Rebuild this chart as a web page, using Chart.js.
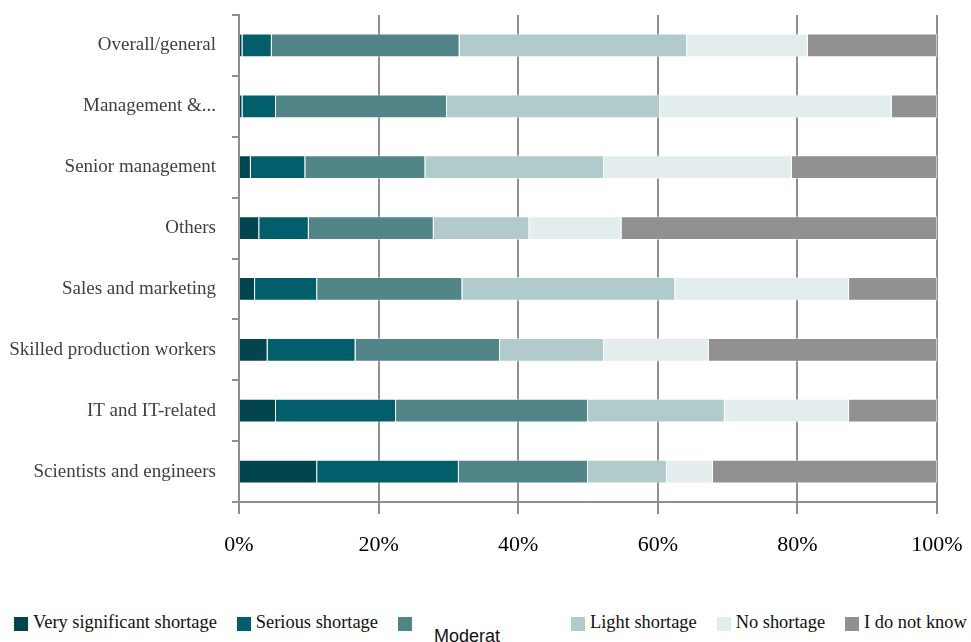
<!DOCTYPE html>
<html>
<head>
<meta charset="utf-8">
<script src="https://cdn.jsdelivr.net/npm/chart.js@4.4.1/dist/chart.umd.min.js"></script>
<style>
  body { margin: 0; background: #fff; }
  #wrap { position: relative; width: 971px; height: 642px; overflow: hidden; }
  #box { position: absolute; left: 0; top: 0; width: 971px; height: 600px; }
  #legend { position: absolute; left: 14px; top: 612px; display: flex; font-family: 'Liberation Serif', serif; font-size: 18.4px; color: #111; white-space: nowrap; }
  #legend .item { display: flex; align-items: flex-start; margin-right: 20px; }
  #legend .sw { width: 14px; height: 14px; margin-top: 5px; margin-right: 5px; }
  #legend .odd { width: 134px; position: relative; }
  #legend .odd span { position: absolute; left: 17px; top: 14px; font-family: 'Liberation Sans', sans-serif; font-size: 18px; }
</style>
</head>
<body>
<div id="wrap">
  <div id="box"><canvas id="barChart"></canvas></div>
  <div id="legend"></div>
</div>
<script>
const categories = ['Overall/general', 'Management &...', 'Senior management', 'Others',
  'Sales and marketing', 'Skilled production workers', 'IT and IT-related', 'Scientists and engineers'];
const seriesNames = ['Very significant shortage', 'Serious shortage', 'Moderat', 'Light shortage', 'No shortage', 'I do not know'];
const verySignificant = [0.5, 0.5, 1.7, 2.9, 2.3, 4.1, 5.3, 11.2];
const serious = [4.2, 4.8, 7.8, 7.1, 8.9, 12.6, 17.2, 20.3];
const moderate = [26.9, 24.5, 17.2, 17.9, 20.8, 20.7, 27.5, 18.5];
const light = [32.6, 30.4, 25.6, 13.7, 30.5, 14.9, 19.6, 11.3];
const noShortage = [17.3, 33.3, 26.9, 13.2, 24.9, 15.0, 17.8, 6.6];
const doNotKnow = [18.5, 6.5, 20.8, 45.2, 12.6, 32.7, 12.6, 32.1];
const colors = ['#02454f', '#025e6b', '#528588', '#b1cacc', '#e3eded', '#919191'];

const values = [verySignificant, serious, moderate, light, noShortage, doNotKnow];
const gridGray = '#8f8f8f';

// legend drawn as html so the odd "Moderat" label can sit where it does
const legendEl = document.getElementById('legend');
seriesNames.forEach((name, i) => {
    const item = document.createElement('div');
    item.className = 'item';
    const sw = document.createElement('div');
    sw.className = 'sw';
    sw.style.background = colors[i];
    item.appendChild(sw);
    const txt = document.createElement('div');
    if (i === 2) {
        txt.className = 'odd';
        const s = document.createElement('span');
        s.textContent = name;
        txt.appendChild(s);
    } else {
        txt.textContent = name;
    }
    item.appendChild(txt);
    legendEl.appendChild(item);
});

const ctx = document.getElementById('barChart').getContext('2d');
new Chart(ctx, {
    type: 'bar',
    data: {
        labels: categories,
        datasets: values.map((v, i) => ({
            label: seriesNames[i],
            data: v,
            backgroundColor: colors[i],
            borderColor: 'rgba(255,255,255,0.55)',
            borderWidth: 1,
            barPercentage: 0.8,
            categoryPercentage: 0.49
        }))
    },
    options: {
        indexAxis: 'y',
        responsive: true,
        maintainAspectRatio: false,
        animation: false,
        layout: { padding: { top: 15, right: 34, left: 0, bottom: 0 } },
        plugins: {
            legend: { display: false },
            tooltip: { enabled: false }
        },
        scales: {
            x: {
                stacked: true,
                min: 0,
                max: 100,
                ticks: {
                    stepSize: 20,
                    padding: 18,
                    color: '#000',
                    font: { family: "'Liberation Serif', serif", size: 22 },
                    callback: v => v + '%'
                },
                grid: { color: gridGray, lineWidth: 2, tickLength: 12 },
                border: { color: gridGray, width: 2 },
                afterFit: s => {
                    s.height = 98;
                    s.paddingLeft = 0;
                    s.paddingRight = 0;
                }
            },
            y: {
                stacked: true,
                ticks: {
                    padding: 16,
                    color: '#3f3f3f',
                    font: { family: "'Liberation Serif', serif", size: 19 }
                },
                grid: { color: gridGray, lineWidth: 2, tickLength: 7, drawOnChartArea: false, offset: true },
                border: { color: gridGray, width: 2 },
                afterFit: s => {
                    s.width = 239;
                    s.paddingTop = 0;
                    s.paddingBottom = 0;
                }
            }
        }
    }
});
</script>
</body>
</html>
